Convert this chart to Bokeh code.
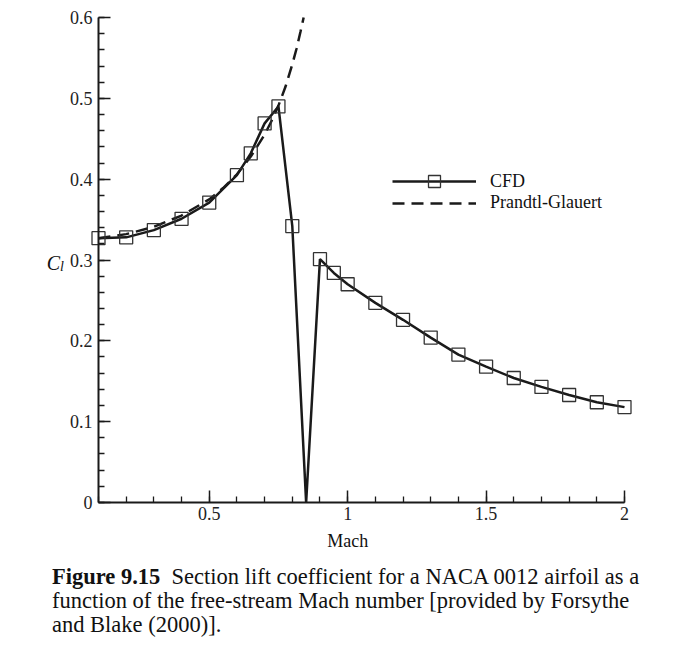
from bokeh.plotting import figure
from bokeh.models import (Range1d, FixedTicker, Legend, LegendItem, Label, Div)
from bokeh.layouts import column
from bokeh.embed import file_html
from bokeh.resources import INLINE

# ---- data ----
mach_cfd = [0.1, 0.2, 0.3, 0.4, 0.5, 0.6, 0.65, 0.7, 0.75, 0.8,
            0.9, 0.95, 1.0, 1.1, 1.2, 1.3, 1.4, 1.5, 1.6, 1.7, 1.8, 1.9, 2.0]
cl_cfd = [0.327, 0.328, 0.337, 0.351, 0.371, 0.405, 0.432, 0.469, 0.490, 0.342,
          0.301, 0.284, 0.270, 0.247, 0.226, 0.204, 0.183, 0.168, 0.154, 0.143,
          0.133, 0.124, 0.118]
# point where the CFD curve touches zero (no symbol drawn there)
mach_dip = [0.85]
cl_dip = [0.0]

mach_pg = [0.1, 0.2, 0.3, 0.4, 0.5, 0.55, 0.6, 0.65, 0.7, 0.725, 0.75,
           0.775, 0.8, 0.815, 0.83, 0.841]
cl_pg = [0.327, 0.332, 0.341, 0.355, 0.375, 0.389, 0.406, 0.428, 0.455, 0.472,
         0.491, 0.514, 0.542, 0.561, 0.583, 0.600]

x_major = [0.5, 1, 1.5, 2]
x_minor = [0.1, 0.2, 0.3, 0.4, 0.5, 0.6, 0.7, 0.8, 0.9, 1.0, 1.1, 1.2, 1.3,
           1.4, 1.5, 1.6, 1.7, 1.8, 1.9, 2.0]
x_labels = {0.5: "0.5", 1: "1", 1.5: "1.5", 2: "2"}
y_major = [0, 0.1, 0.2, 0.3, 0.4, 0.5, 0.6]
y_minor = [i * 0.02 for i in range(31)]
y_labels = {0: "0", 0.1: "0.1", 0.2: "0.2", 0.3: "0.3", 0.4: "0.4", 0.5: "0.5", 0.6: "0.6"}

# build CFD line (symbols at mach_cfd, curve also passes through the dip)
line_pts = sorted(list(zip(mach_cfd, cl_cfd)) + list(zip(mach_dip, cl_dip)))
mach_line = [m for m, _ in line_pts]
cl_line = [c for _, c in line_pts]

FONT = "Liberation Serif"
INK = "#1a1a1a"

p = figure(output_backend="svg", toolbar_location=None,
           frame_width=614, frame_height=553,
           x_range=Range1d(-0.10951, 2.10837), y_range=Range1d(-0.07423, 0.60990),
           min_border_left=40, min_border_right=20,
           min_border_top=9, min_border_bottom=0)
p.outline_line_color = None
p.grid.visible = False
p.background_fill_color = "white"

# axes
for ax in (p.xaxis[0], p.yaxis[0]):
    ax.axis_line_color = INK
    ax.axis_line_width = 2
    ax.major_tick_line_color = INK
    ax.minor_tick_line_color = INK
    ax.major_tick_line_width = 1.5
    ax.minor_tick_line_width = 1.3
    ax.major_tick_in = 12
    ax.major_tick_out = 0
    ax.minor_tick_in = 6
    ax.minor_tick_out = 0
    ax.major_label_text_font = FONT
    ax.major_label_text_font_size = "18px"
    ax.major_label_text_color = "#222222"

p.xaxis.ticker = FixedTicker(ticks=x_major, minor_ticks=x_minor)
p.xaxis.major_label_overrides = x_labels
p.xaxis.bounds = (0.1, 2.0)
p.xaxis.fixed_location = 0
p.xaxis.major_label_standoff = 5

p.yaxis.ticker = FixedTicker(ticks=y_major, minor_ticks=y_minor)
p.yaxis.major_label_overrides = y_labels
p.yaxis.bounds = (0, 0.6)
p.yaxis.fixed_location = 0.1
p.yaxis.major_label_standoff = 6

# data
r_pg = p.line(mach_pg, cl_pg, line_color=INK, line_width=2.5, line_dash="12 7")
r_cfd = p.line(mach_line, cl_line, line_color=INK, line_width=2.5)
r_sym = p.scatter(mach_cfd, cl_cfd, marker="square", size=13,
                  fill_alpha=0, line_color="#333333", line_width=1.3)

legend_style = dict(orientation="vertical", glyph_width=84, label_height=20,
                    label_standoff=14, spacing=0, padding=0, margin=0,
                    border_line_alpha=0, background_fill_alpha=0,
                    label_text_font=FONT, label_text_font_size="18px",
                    label_text_color="#111111")
legend_cfd = Legend(items=[LegendItem(label="CFD", renderers=[r_cfd, r_sym])],
                    location=(352, 366), glyph_height=30, **legend_style)
legend_pg = Legend(items=[LegendItem(label="Prandtl-Glauert", renderers=[r_pg])],
                   location=(352, 349), glyph_height=20, **legend_style)
p.add_layout(legend_cfd, "center")
p.add_layout(legend_pg, "center")

# axis titles
p.add_layout(Label(x=1.0, y=-0.0475, text="Mach", text_align="center",
                   text_baseline="alphabetic", text_font=FONT,
                   text_font_size="18px", text_color="#111111"))
p.add_layout(Label(x=-0.0865, y=0.296, text="C", text_align="left",
                   text_baseline="alphabetic", text_font=FONT,
                   text_font_style="italic", text_font_size="20px",
                   text_color="#111111"))
p.add_layout(Label(x=-0.0395, y=0.292, text="l", text_align="left",
                   text_baseline="alphabetic", text_font=FONT,
                   text_font_style="italic", text_font_size="14px",
                   text_color="#111111"))

caption = Div(text="<b>Figure 9.15</b>&nbsp; Section lift coefficient for a NACA 0012 airfoil as a<br>"
                   "function of the free-stream Mach number [provided by Forsythe<br>"
                   "and Blake (2000)].",
              width=640, height=76, margin=(3, 0, 0, 52),
              styles={"font-family": FONT, "font-size": "22.5px",
                      "line-height": "24px", "color": "#111111",
                      "white-space": "nowrap"})

layout = column(p, caption)
open("out.html", "w").write(file_html(layout, INLINE))
